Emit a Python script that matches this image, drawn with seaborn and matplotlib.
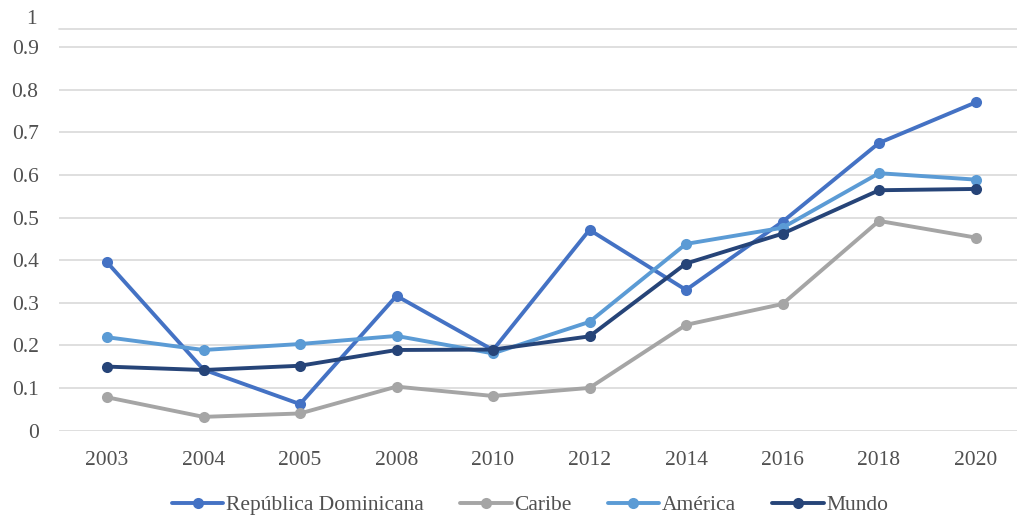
import matplotlib
matplotlib.use("Agg")
import matplotlib.pyplot as plt
from matplotlib.lines import Line2D
import seaborn as sns
import pandas as pd

# Series data
years = ["2003", "2004", "2005", "2008", "2010", "2012", "2014", "2016", "2018", "2020"]
republica_dominicana = [0.395, 0.143, 0.062, 0.316, 0.189, 0.471, 0.330, 0.490, 0.675, 0.770]
caribe = [0.078, 0.032, 0.040, 0.103, 0.081, 0.100, 0.248, 0.297, 0.492, 0.453]
america = [0.219, 0.189, 0.203, 0.222, 0.181, 0.255, 0.438, 0.476, 0.604, 0.589]
mundo = [0.150, 0.142, 0.152, 0.189, 0.190, 0.221, 0.392, 0.462, 0.564, 0.567]

series_names = ["República Dominicana", "Caribe", "América", "Mundo"]
series_values = [republica_dominicana, caribe, america, mundo]
colors = ["#4472C4", "#A5A5A5", "#5B9BD5", "#264478"]
yticks = [0, 0.1, 0.2, 0.3, 0.4, 0.5, 0.6, 0.7, 0.8, 0.9]
ytick_labels = ["0", "0.1", "0.2", "0.3", "0.4", "0.5", "0.6", "0.7", "0.8", "0.9"]

df = pd.concat(
    [pd.DataFrame({"Año": years, "Valor": vals, "Serie": name})
     for name, vals in zip(series_names, series_values)],
    ignore_index=True,
)

sns.set_theme(style="white")
plt.rcParams["font.family"] = ["Liberation Serif", "DejaVu Serif"]

FS = 15.5
TEXT_COLOR = "#505050"

fig = plt.figure(figsize=(10.17, 5.18), dpi=100)
ax = fig.add_axes([58.75 / 1017, (518 - 430.5) / 518, (1017 - 58.75) / 1017, (430.5 - 29) / 518])

palette = dict(zip(series_names, colors))
sns.lineplot(
    data=df, x="Año", y="Valor", hue="Serie", palette=palette,
    marker="o", markersize=8, markeredgewidth=0, linewidth=2.8,
    sort=False, legend=False, ax=ax, zorder=3,
)

ax.set_xlim(-0.5, 9.43)
ax.set_ylim(0, 0.9425)
ax.set_yticks(yticks)
ax.set_yticklabels(ytick_labels)
ax.grid(axis="y", color="#D9D9D9", linewidth=1.2, zorder=0)
ax.grid(axis="x", visible=False)
ax.axhline(0.9425, color="#D9D9D9", linewidth=1.2, zorder=0, clip_on=False)
for s in ax.spines.values():
    s.set_visible(False)
ax.tick_params(axis="both", length=0, labelsize=FS, colors=TEXT_COLOR)
ax.tick_params(axis="y", pad=14.5)
ax.tick_params(axis="x", pad=15)
ax.set_xlabel("")
ax.set_ylabel("")

# Top axis value label
ax.annotate("1", xy=(0, 1), xycoords="axes fraction", xytext=(-15.5, 6.5),
            textcoords="offset points", ha="right", va="center",
            fontsize=FS, color=TEXT_COLOR)

handles = [Line2D([0], [0], color=c, linewidth=2.8, marker="o", markersize=8,
                  markeredgewidth=0) for c in colors]
fig.legend(handles, series_names, loc="center", bbox_to_anchor=(0.521, 0.025),
           ncol=4, frameon=False, fontsize=FS, handlelength=2.4,
           handletextpad=0.1, columnspacing=1.7, labelcolor=TEXT_COLOR)

fig.savefig("out.png", dpi=100, facecolor="white")
